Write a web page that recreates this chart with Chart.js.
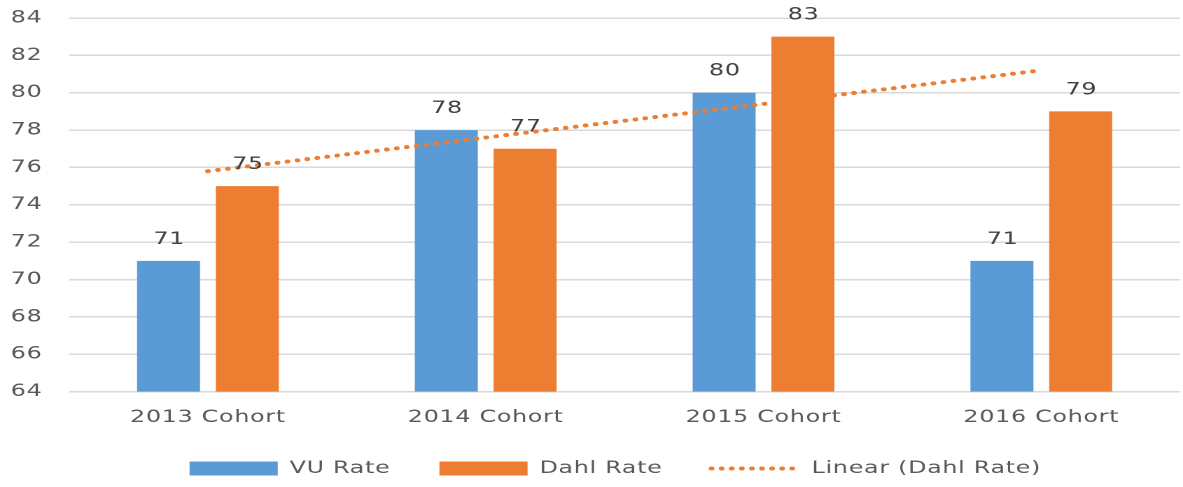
<!DOCTYPE html>
<html>
<head>
<meta charset="utf-8">
<script src="https://cdn.jsdelivr.net/npm/chart.js@4/dist/chart.umd.min.js"></script>
<style>
  html, body { margin: 0; padding: 0; background: #ffffff; overflow: hidden; }
  #wrap { position: relative; width: 845px; height: 487px; transform: scaleX(1.4); transform-origin: 0 0; }
</style>
</head>
<body>
<div id="wrap"><canvas id="c"></canvas></div>
<script>
const categories = ["2013 Cohort", "2014 Cohort", "2015 Cohort", "2016 Cohort"];
const vuRate = [71, 78, 80, 71];
const dahlRate = [75, 77, 83, 79];
const dahlTrend = [75.8, 77.6, 79.4, 81.2];
const yTicks = [64, 66, 68, 70, 72, 74, 76, 78, 80, 82, 84];

const BLUE = '#5B9BD5';
const ORANGE = '#ED7D31';
const TEXT = '#595959';
const LS = '0.5px';
const FONT = 'DejaVu Sans';
const FS = 17;

const spacingPlugin = {
  id: 'spacing',
  beforeUpdate(chart) { chart.ctx.letterSpacing = LS; },
  beforeLayout(chart) { chart.ctx.letterSpacing = LS; },
  afterLayout(chart) {
    if (chart.legend) { chart.legend.left += 17; chart.legend.right += 17; }
  },
  beforeDraw(chart) { chart.ctx.letterSpacing = LS; }
};

const labelPlugin = {
  id: 'valueLabels',
  afterDatasetsDraw(chart) {
    const ctx = chart.ctx;
    ctx.save();
    ctx.letterSpacing = LS;
    ctx.font = FS + 'px "' + FONT + '"';
    ctx.fillStyle = '#404040';
    ctx.textAlign = 'center';
    ctx.textBaseline = 'bottom';
    chart.data.datasets.forEach((ds, i) => {
      if (ds.type !== 'bar') return;
      const meta = chart.getDatasetMeta(i);
      meta.data.forEach((el, j) => {
        ctx.fillText(String(ds.data[j]), el.x + 0.5, el.y - 13);
      });
    });
    ctx.restore();
  }
};

new Chart(document.getElementById('c'), {
  data: {
    labels: categories,
    datasets: [
      { type: 'bar', label: 'VU Rate', data: vuRate, backgroundColor: BLUE, order: 1,
        categoryPercentage: 0.567, barPercentage: 0.8 },
      { type: 'bar', label: 'Dahl Rate', data: dahlRate, backgroundColor: ORANGE, order: 1,
        categoryPercentage: 0.567, barPercentage: 0.8 },
      { type: 'line', label: 'Linear (Dahl Rate)', data: dahlTrend, borderColor: ORANGE,
        backgroundColor: ORANGE, borderWidth: 4, borderDash: [0.1, 7.1], borderCapStyle: 'round',
        pointRadius: 0, fill: false, tension: 0, order: 0 }
    ]
  },
  options: {
    responsive: true,
    maintainAspectRatio: false,
    animation: false,
    devicePixelRatio: 2,
    layout: { padding: { top: 18, right: 0, left: 0, bottom: 0 } },
    font: { family: FONT },
    scales: {
      x: {
        offset: true,
        grid: { display: false },
        border: { display: false },
        ticks: { color: TEXT, font: { family: FONT, size: FS }, padding: 8 },
        afterFit(scale) { scale.paddingLeft = 0; scale.paddingRight = 0; scale.height = scale.height - 11; }
      },
      y: {
        min: 64, max: 84,
        afterBuildTicks(scale) { scale.ticks = yTicks.map(v => ({ value: v })); },
        grid: { color: '#D9D9D9', lineWidth: 1.5, drawTicks: false },
        border: { display: false },
        ticks: { color: TEXT, font: { family: FONT, size: FS }, padding: 19 },
        afterFit(scale) { scale.width = 49.3; scale.paddingTop = 0; scale.paddingBottom = 0; }
      }
    },
    plugins: {
      tooltip: { enabled: false },
      legend: {
        position: 'bottom',
        labels: {
          color: TEXT,
          font: { family: FONT, size: FS },
          usePointStyle: true,
          pointStyleWidth: 63,
          boxHeight: 14,
          padding: 35,
          sort: (a, b) => a.datasetIndex - b.datasetIndex,
          generateLabels(chart) {
            const items = Chart.defaults.plugins.legend.labels.generateLabels(chart);
            items.forEach(it => {
              const ds = chart.data.datasets[it.datasetIndex];
              if (ds.type === 'line') {
                it.pointStyle = 'line';
                it.lineWidth = 4;
                it.lineDash = [0.1, 7.1];
                it.lineCap = 'round';
                it.strokeStyle = ORANGE;
              } else {
                it.pointStyle = 'rect';
                it.lineWidth = 0;
              }
            });
            return items;
          }
        }
      }
    }
  },
  plugins: [spacingPlugin, labelPlugin]
});
</script>
</body>
</html>
